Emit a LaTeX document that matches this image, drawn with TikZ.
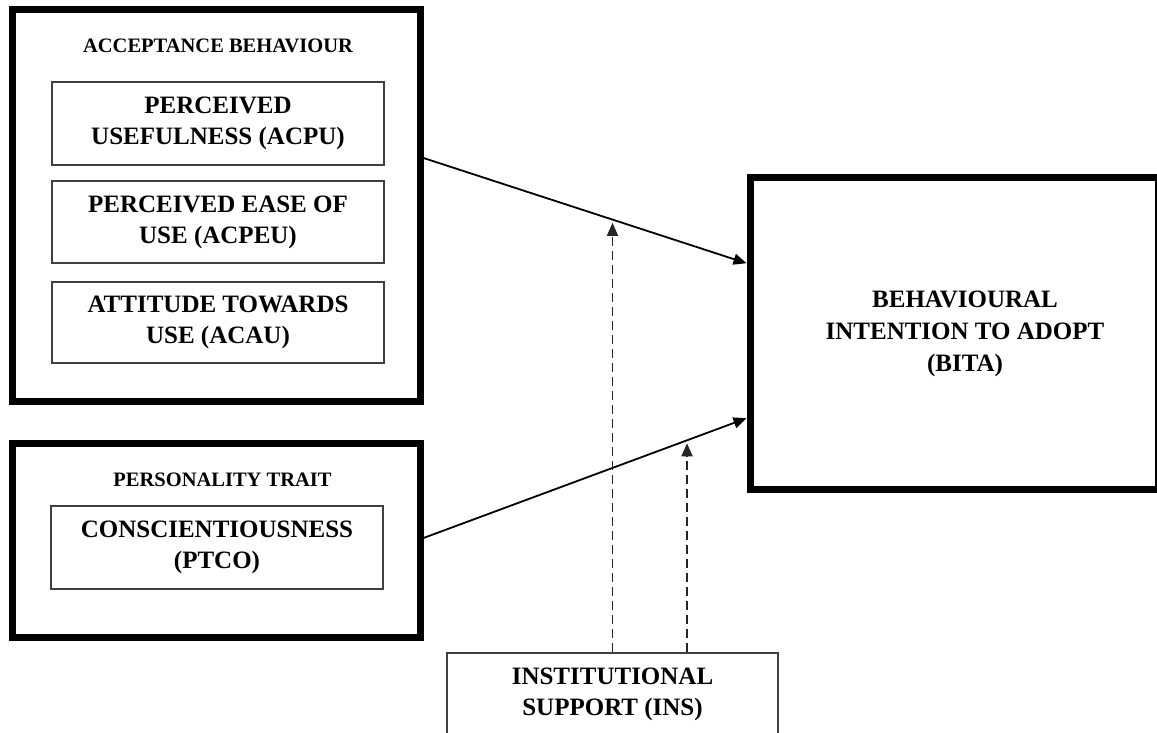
\documentclass[tikz,border=0pt]{standalone}
\usepackage{fontspec}
\setmainfont{Liberation Serif}
\usetikzlibrary{arrows.meta,calc}
\begin{document}
\begin{tikzpicture}[x=1pt,y=-1pt,
  bigbox/.style={draw=black, line width=7pt, inner sep=0pt},
  smallbox/.style={draw=black!75, line width=1.4pt, inner sep=0pt, minimum width=332pt,
    align=center, font=\fontsize{25}{31}\selectfont\bfseries},
  maintext/.style={inner sep=0pt, align=center, font=\fontsize{25}{32}\selectfont\bfseries},
  titletext/.style={inner sep=0pt, font=\fontsize{20.5}{24}\selectfont\bfseries},
  solidarrow/.style={draw=black, line width=1.8pt, -{Triangle[length=13pt,width=11pt]}},
  dasharrow/.style={draw=black!85, line width=1.8pt, dash pattern=on 9pt off 5pt,
    -{Triangle[length=13pt,width=11pt]}, shorten >=3pt}
]
\useasboundingbox (0,0) rectangle (1157,733);

% Acceptance behaviour group
\node[bigbox, minimum width=407.5pt, minimum height=391.5pt] (acc) at (216.25,205.75) {};
\node[titletext] (acct) at (218,46) {ACCEPTANCE BEHAVIOUR};
\node[smallbox, minimum height=83pt] (acpu) at (218,123.5) {PERCEIVED\\USEFULNESS (ACPU)};
\node[smallbox, minimum height=82pt] (acpeu) at (218,222) {PERCEIVED EASE OF\\USE (ACPEU)};
\node[smallbox, minimum height=81pt] (acau) at (218,322.5) {ATTITUDE TOWARDS\\USE (ACAU)};

% Personality trait group
\node[bigbox, minimum width=407.5pt, minimum height=194pt] (pt) at (216.25,540) {};
\node[titletext] (ptt) at (222.5,480) {PERSONALITY TRAIT};
\node[smallbox, minimum height=83pt] (ptco) at (217,547.5) {CONSCIENTIOUSNESS\\(PTCO)};

% Outcome
\node[bigbox, minimum width=408pt, minimum height=311.5pt] (bita) at (954,333.25) {};
\node[maintext] (bitat) at (965,334) {BEHAVIOURAL\\INTENTION TO ADOPT\\(BITA)};

% Moderator
\node[smallbox, minimum width=331pt, minimum height=82pt] (ins) at (612.5,694) {INSTITUTIONAL\\SUPPORT (INS)};

% Connectors
\draw[solidarrow] ([yshift=47.75pt]acc.east) -- coordinate[pos=0.587] (m1) ([yshift=70pt]bita.west);
\draw[solidarrow] ([yshift=2pt]pt.east) -- coordinate[pos=0.816] (m2) ([yshift=-85pt]bita.west);

\coordinate (d1) at (ins.north);
\coordinate (d2) at ([xshift=74.5pt]ins.north);
\draw[dasharrow] (d1) -- (d1 |- m1);
\draw[dasharrow] (d2) -- (d2 |- m2);
\end{tikzpicture}
\end{document}
